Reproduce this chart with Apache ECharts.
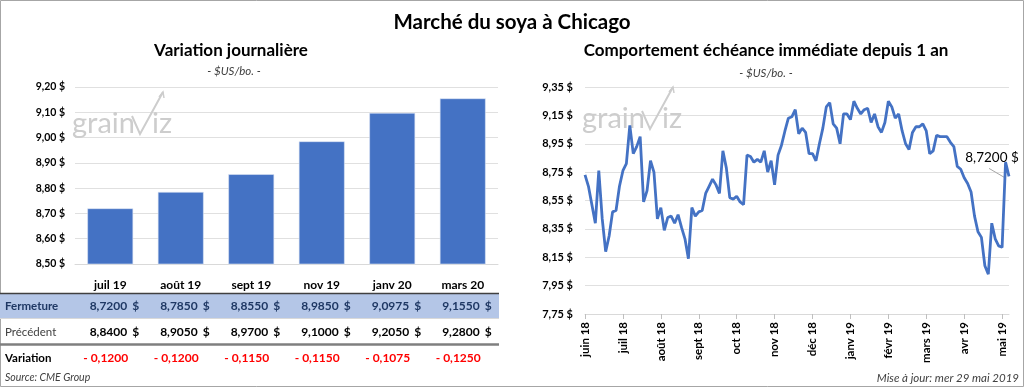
<!DOCTYPE html>
<html><head><meta charset="utf-8">
<script src="https://cdn.jsdelivr.net/npm/echarts@6/dist/echarts.min.js"></script>
<style>html,body{margin:0;padding:0;background:#fff}#c{width:1024px;height:387px}</style>
</head><body><div id="c"></div>
<script>
// ---- data ----
const barCategories = ['juil 19', 'août 19', 'sept 19', 'nov 19', 'janv 20', 'mars 20'];
const fermeture = [8.7200, 8.7850, 8.8550, 8.9850, 9.0975, 9.1550];
const precedent = [8.8400, 8.9050, 8.9700, 9.1000, 9.2050, 9.2800];
const monthLabels = ['juin 18', 'juil 18', 'août 18', 'sept 18', 'oct 18', 'nov 18', 'déc 18', 'janv 19', 'févr 19', 'mars 19', 'avr 19', 'mai 19'];
const labelStep = 11; // points between month labels
const prices = [
  8.73, 8.65, 8.52, 8.39, 8.76, 8.42, 8.19, 8.30, 8.47, 8.48,
  8.65, 8.76, 8.81, 9.08, 8.88, 8.93, 9.00, 8.54, 8.62, 8.83,
  8.75, 8.42, 8.50, 8.34, 8.43, 8.44, 8.39, 8.45, 8.36, 8.28,
  8.14, 8.50, 8.44, 8.47, 8.48, 8.60, 8.65, 8.70, 8.66, 8.60,
  8.90, 8.78, 8.57, 8.56, 8.58, 8.54, 8.52, 8.87, 8.86, 8.82,
  8.84, 8.82, 8.90, 8.75, 8.83, 8.66, 8.87, 8.94, 9.04, 9.13,
  9.14, 9.19, 9.02, 9.06, 9.03, 8.88, 8.88, 8.83, 8.95, 9.06,
  9.21, 9.24, 9.09, 9.06, 8.95, 9.16, 9.16, 9.12, 9.25, 9.20,
  9.16, 9.19, 9.20, 9.10, 9.16, 9.07, 9.03, 9.10, 9.25, 9.21,
  9.13, 9.16, 9.04, 8.95, 8.91, 9.03, 9.07, 9.07, 9.09, 9.04,
  8.88, 8.90, 9.01, 9.00, 9.00, 9.00, 8.96, 8.93, 8.79, 8.77,
  8.71, 8.67, 8.61, 8.44, 8.33, 8.29, 8.09, 8.03, 8.39, 8.28,
  8.23, 8.22, 8.82, 8.72
];
const barAxis = { min: 8.50, max: 9.20, step: 0.10 };
const lineAxis = { min: 7.75, max: 9.35, step: 0.20 };

// ---- helpers ----
const FONT = 'Lato, "Open Sans", sans-serif';
const BLUE = '#4472c4';
const fmt2 = v => v.toFixed(2).replace('.', ',') + ' $';
const fmt4 = v => v.toFixed(4).replace('.', ',');

const chart = echarts.init(document.getElementById('c'), null, { renderer: 'canvas' });

const axisLabelBase = { fontFamily: FONT, fontWeight: 'bold', fontSize: 10.5, color: '#000' };

const option = {
  animation: false,
  grid: [
    { left: 75, top: 87, width: 423, height: 177 },
    { left: 585, top: 87, width: 424, height: 227 }
  ],
  xAxis: [
    { type: 'category', gridIndex: 0, data: barCategories,
      axisLine: { lineStyle: { color: '#d9d9d9' } }, axisTick: { show: false },
      axisLabel: Object.assign({}, axisLabelBase, { fontSize: 12, margin: 15 }) },
    { type: 'category', gridIndex: 1, boundaryGap: false,
      data: prices.map((_, i) => String(i)),
      axisLine: { lineStyle: { color: '#d9d9d9' } },
      axisTick: { show: true, interval: labelStep - 1, length: 5, lineStyle: { color: '#bfbfbf' } },
      axisLabel: Object.assign({}, axisLabelBase, { fontSize: 11.5, rotate: 90, margin: 8, interval: labelStep - 1,
        formatter: (val, idx) => idx % labelStep === 0 ? (monthLabels[idx / labelStep] || '') : '' }) }
  ],
  yAxis: [
    { type: 'value', gridIndex: 0, min: barAxis.min, max: barAxis.max, interval: barAxis.step,
      axisLine: { show: false }, axisTick: { show: false },
      splitLine: { lineStyle: { color: '#e0e0e0' } },
      axisLabel: Object.assign({}, axisLabelBase, { margin: 10, formatter: fmt2 }) },
    { type: 'value', gridIndex: 1, min: lineAxis.min, max: lineAxis.max, interval: lineAxis.step,
      axisLine: { show: false }, axisTick: { show: false },
      splitLine: { lineStyle: { color: '#e0e0e0' } },
      axisLabel: Object.assign({}, axisLabelBase, { fontSize: 11, margin: 12, formatter: fmt2 }) }
  ],
  series: [
    { type: 'bar', xAxisIndex: 0, yAxisIndex: 0, data: fermeture, barWidth: '65%',
      itemStyle: { color: BLUE, borderColor: '#dde6f5', borderWidth: 0.6 } },
    { type: 'line', xAxisIndex: 1, yAxisIndex: 1, data: prices,
      symbol: 'none', showSymbol: false,
      lineStyle: { color: BLUE, width: 2.8 }, itemStyle: { color: BLUE } }
  ]
};
chart.setOption(option);

// ---- graphics: titles, table, watermark, end label ----
const cx = barCategories.map((_, k) => chart.convertToPixel({ xAxisIndex: 0 }, k));
const g = [];
const txt = (x, y, text, font, fill, align, vAlign) => g.push({
  type: 'text', x, y, silent: true,
  style: { text, font, fill, align: align || 'left', verticalAlign: vAlign || 'middle' }
});

// border
g.push({ type: 'rect', shape: { x: 0.5, y: 0.5, width: 1023, height: 386 }, style: { fill: null, stroke: '#a6a6a6', lineWidth: 1 } });
// titles
txt(512, 22, 'Marché du soya à Chicago', 'bold 20.5px ' + FONT, '#000', 'center');
txt(231, 51, 'Variation journalière', 'bold 17px ' + FONT, '#000', 'center');
txt(234, 71, '- $US/bo. -', 'italic 11.5px ' + FONT, '#404040', 'center');
txt(766, 51, 'Comportement échéance immédiate depuis 1 an', 'bold 17px ' + FONT, '#000', 'center');
txt(766, 73, '- $US/bo. -', 'italic 11.5px ' + FONT, '#404040', 'center');

// watermarks
function watermark(x, y) {
  const col = '#cdcdcd';
  txt(x, y, 'grain', '29px ' + FONT, col, 'left', 'middle');
  g.push({ type: 'polyline', silent: true,
    shape: { points: [[x + 60, y - 8], [x + 68, y + 10], [x + 91, y - 32]] },
    style: { stroke: col, lineWidth: 2, fill: null } });
  g.push({ type: 'polyline', silent: true,
    shape: { points: [[x + 87, y - 27], [x + 91, y - 32], [x + 92, y - 26]] },
    style: { stroke: col, lineWidth: 1.5, fill: null } });
  txt(x + 80, y, 'iz', '29px ' + FONT, col, 'left', 'middle');
}
watermark(72, 124);
watermark(582, 119);

// end-of-line value label with leader line
const last = prices.length - 1;
const pt = chart.convertToPixel({ gridIndex: 1 }, [last, prices[last]]);
g.push({ type: 'line', silent: true, shape: { x1: pt[0] - 20, y1: pt[1] - 8, x2: pt[0] - 3, y2: pt[1] + 2 },
  style: { stroke: '#a6a6a6', lineWidth: 1 } });
txt(pt[0] - 17, pt[1] - 19, fmt4(prices[last]) + ' $', '13.5px ' + FONT, '#000', 'center');

// table
const T = { yF: 306, yP: 332, yV: 358 };
g.push({ type: 'rect', shape: { x: 0, y: 294, width: 499, height: 24 }, style: { fill: '#b4c6e7' } });
g.push({ type: 'line', shape: { x1: 0, y1: 293.5, x2: 499, y2: 293.5 }, style: { stroke: '#404040', lineWidth: 1.5 } });
g.push({ type: 'line', shape: { x1: 0, y1: 318.5, x2: 499, y2: 318.5 }, style: { stroke: '#d9d9d9', lineWidth: 1 } });
g.push({ type: 'line', shape: { x1: 0, y1: 344.5, x2: 499, y2: 344.5 }, style: { stroke: '#7f7f7f', lineWidth: 2.5 } });
txt(5, T.yF, 'Fermeture', 'bold 11.5px ' + FONT, '#1f3864');
txt(5, T.yP, 'Précédent', '11.5px ' + FONT, '#404040');
txt(5, T.yV, 'Variation', 'bold 11.5px ' + FONT, '#000');
cx.forEach((x, k) => {
  txt(x + 17, T.yF, fmt4(fermeture[k]), 'bold 12px ' + FONT, '#1f3864', 'right');
  txt(x + 22, T.yF, '$', 'bold 12px ' + FONT, '#1f3864', 'left');
  txt(x + 17, T.yP, fmt4(precedent[k]), 'bold 12px ' + FONT, '#000', 'right');
  txt(x + 22, T.yP, '$', 'bold 12px ' + FONT, '#000', 'left');
  const d = Math.round((fermeture[k] - precedent[k]) * 10000) / 10000;
  txt(x + 18, T.yV, (d < 0 ? '- ' : '') + fmt4(Math.abs(d)), 'bold 12px ' + FONT, '#ff0000', 'right');
});
txt(5, 378, 'Source: CME Group', 'italic 10.5px ' + FONT, '#404040');
txt(1019, 378, 'Mise à jour: mer 29 mai 2019', 'italic 11.5px ' + FONT, '#404040', 'right');

chart.setOption({ graphic: { elements: g } });
</script></body></html>
